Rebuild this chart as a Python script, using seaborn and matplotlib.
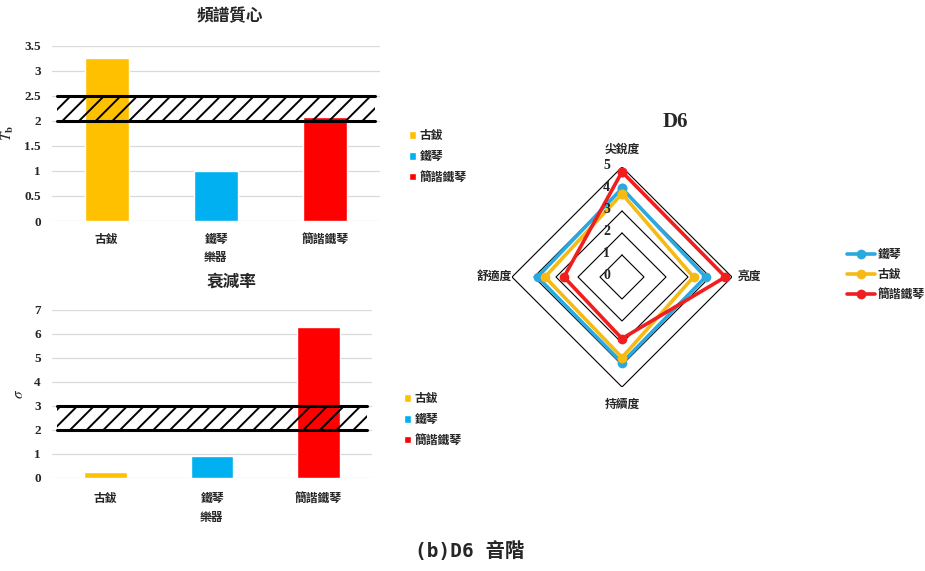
import numpy as np
import pandas as pd
import seaborn as sns
import matplotlib.pyplot as plt
from matplotlib.ticker import FuncFormatter

# data
instruments = ['古鈸', '鐵琴', '簡諧鐵琴']
centroid = [3.25, 1.0, 2.08]
decay = [0.27, 0.9, 6.3]
centroid_band = (2.0, 2.5)
decay_band = (2.0, 3.0)

radar_axes = ['尖銳度', '亮度', '持續度', '舒適度']
radar_order = ['鐵琴', '古鈸', '簡諧鐵琴']
radar_vals = {
    '鐵琴': [4.03, 3.8, 3.9, 3.84],
    '古鈸': [3.78, 3.25, 3.66, 3.5],
    '簡諧鐵琴': [4.78, 4.7, 2.8, 2.64],
}

bar_colors = {'古鈸': '#FFC000', '鐵琴': '#00B0F0', '簡諧鐵琴': '#FF0000'}
line_colors = {'鐵琴': '#2AA9E0', '古鈸': '#F5BA14', '簡諧鐵琴': '#F01E1E'}

sns.set_style('white')
plt.rcParams['font.family'] = ['Liberation Serif', 'Noto Sans CJK TC']
plt.rcParams['mathtext.fontset'] = 'stix'
plt.rcParams['hatch.linewidth'] = 1.4

fig = plt.figure(figsize=(9.25, 5.71), dpi=100)
W, H = 925, 571


def px(x0, y0, x1, y1):
    return [x0 / W, 1 - y1 / H, (x1 - x0) / W, (y1 - y0) / H]


def bar_panel(rect, values, band, ymax, step, ylab, leg_y, leg_x, xpad):
    ax = fig.add_axes(rect)
    df = pd.DataFrame({'instr': instruments, 'val': values})
    sns.barplot(data=df, x='instr', y='val', hue='instr', palette=bar_colors,
                width=0.4, dodge=False, saturation=1, legend=True, ax=ax)
    ax.set_ylim(0, ymax)
    ax.set_yticks(np.arange(0, ymax + 0.01, step))
    ax.yaxis.set_major_formatter(FuncFormatter(lambda v, p: f'{v:g}'))
    ax.yaxis.grid(True, color='#D9D9D9', lw=0.9)
    ax.set_axisbelow(True)
    for s in ax.spines.values():
        s.set_visible(False)
    ax.tick_params(length=0, pad=8)
    ax.tick_params(axis='x', pad=xpad)
    for t in ax.get_yticklabels():
        t.set_fontweight('bold')
        t.set_fontsize(9.5)
    for t in ax.get_xticklabels():
        t.set_fontsize(8.5)
        t.set_fontweight('bold')
    ax.set_xlabel('樂器', fontsize=8.5, fontweight='bold', labelpad=5)
    ax.set_ylabel(ylab, fontsize=11, labelpad=6)
    # hatched target band
    ax.axhspan(band[0], band[1], xmin=0.015, xmax=0.985, fill=False,
               hatch='//', edgecolor='black', lw=0, zorder=4)
    ax.axhline(band[0], xmin=0.015, xmax=0.985, color='black', lw=2.2, zorder=5)
    ax.axhline(band[1], xmin=0.015, xmax=0.985, color='black', lw=2.2, zorder=5)
    h, l = ax.get_legend_handles_labels()
    ax.legend(h, l, loc='center left', bbox_to_anchor=(leg_x, leg_y),
              bbox_transform=fig.transFigure, frameon=False, handlelength=0.6,
              handleheight=0.6, handletextpad=0.3, labelspacing=0.75,
              prop={'size': 8.5, 'weight': 'bold'})
    return ax


bar_panel(px(52, 45.7, 380, 221), centroid, centroid_band, 3.5, 0.5,
          r'$\mathbf{\mathit{T}_b}$', 1 - 157 / H, 398 / W, 9)
bar_panel(px(52, 310, 372, 478), decay, decay_band, 7, 1,
          r'$\sigma$', 1 - 420 / H, 393 / W, 11)

fig.text(230 / W, 1 - 17 / H, '頻譜質心', ha='center', va='center',
         fontsize=12, fontweight='bold')
fig.text(232 / W, 1 - 283 / H, '衰減率', ha='center', va='center',
         fontsize=12, fontweight='bold')

# radar
rax = fig.add_axes(px(512, 167, 732, 387), projection='polar')
rax.set_theta_zero_location('N')
rax.set_theta_direction(-1)
angles = np.arange(len(radar_axes)) * 2 * np.pi / len(radar_axes)
closed = np.append(angles, angles[0])
for lvl in range(1, 6):
    rax.plot(closed, [lvl] * len(closed), color='black', lw=0.8, zorder=1)

rows = []
for name in radar_order:
    vals = radar_vals[name] + radar_vals[name][:1]
    for a, v in zip(closed, vals):
        rows.append({'instr': name, 'theta': a, 'r': v})
rdf = pd.DataFrame(rows)
sns.lineplot(data=rdf, x='theta', y='r', hue='instr', hue_order=radar_order,
             palette=line_colors, sort=False, marker='o', markersize=7,
             markeredgewidth=0, lw=2.6, estimator=None, ax=rax, zorder=3)
rax.set_ylim(0, 5)
rax.set_yticks([])
rax.set_xticks(angles)
rax.set_xticklabels(radar_axes, fontsize=8.5, fontweight='bold')
rax.tick_params(axis='x', pad=2)
rax.grid(False)
rax.spines['polar'].set_visible(False)
rax.set_xlabel('')
rax.set_ylabel('')
for lvl in range(0, 6):
    rax.annotate(str(lvl), (0, lvl), xytext=(-11, 1), textcoords='offset points',
                 ha='center', va='center', fontsize=10, fontweight='bold', zorder=6)
h, l = rax.get_legend_handles_labels()
rax.legend(h, l, loc='center left', bbox_to_anchor=(836 / W, 1 - 275 / H),
           bbox_transform=fig.transFigure, frameon=False, handlelength=2.4,
           handletextpad=0.2, labelspacing=0.7,
           prop={'size': 8.5, 'weight': 'bold'})

fig.text(675 / W, 1 - 122 / H, 'D6', ha='center', va='center',
         fontsize=15, fontweight='bold')
fig.text(470 / W, 1 - 551 / H, '(b)D6 音階', ha='center', va='center',
         fontsize=14, fontweight='bold',
         family=['DejaVu Sans Mono', 'Noto Sans CJK TC'])

fig.savefig('out.png', dpi=100, facecolor='white')
